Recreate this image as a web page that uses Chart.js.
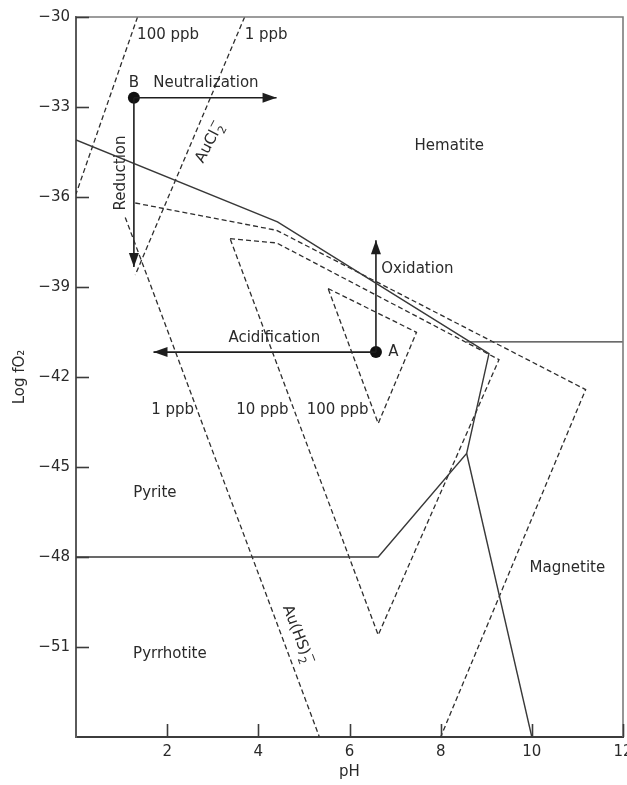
<!DOCTYPE html>
<html>
<head>
<meta charset="utf-8">
<script src="https://cdn.jsdelivr.net/npm/chart.js@4.4.1/dist/chart.umd.min.js"></script>
<style>
html,body{margin:0;padding:0;background:#ffffff;}
#wrap{width:627px;height:785px;position:relative;}
</style>
</head>
<body>
<div id="wrap"><canvas id="c" width="627" height="785"></canvas></div>
<script>
// ---------- axis ticks ----------
const phTickValues = [2, 4, 6, 8, 10, 12];
const logTickValues = [-30, -33, -36, -39, -42, -45, -48, -51];

// ---------- mineral stability boundaries (solid) ----------
const hematitePyrite_pH     = [0, 4.42, 9.06, 8.57, 6.63, 0];
const hematitePyrite_logfO2 = [-34.1, -36.83, -41.22, -44.55, -48.0, -48.0];
const magnetitePyrrhotite_pH     = [8.57, 10.0];
const magnetitePyrrhotite_logfO2 = [-44.55, -54.0];
const hematiteMagnetite_pH     = [8.56, 12.0];
const hematiteMagnetite_logfO2 = [-40.83, -40.83];

// ---------- gold solubility contours (dashed) ----------
const auCl100ppb_pH     = [1.35, 0.0];
const auCl100ppb_logfO2 = [-30.0, -35.9];
const auCl1ppb_pH     = [3.70, 1.30];
const auCl1ppb_logfO2 = [-30.0, -38.6];
const auHS1ppbLeft_pH     = [1.08, 5.34];
const auHS1ppbLeft_logfO2 = [-36.68, -54.0];
const auHS1ppbOuter_pH     = [1.30, 4.40, 11.18, 8.0];
const auHS1ppbOuter_logfO2 = [-36.2, -37.11, -42.42, -54.0];
const auHS10ppb_pH     = [3.38, 4.40, 9.28, 6.63, 3.38];
const auHS10ppb_logfO2 = [-37.39, -37.53, -41.42, -50.6, -37.39];
const auHS100ppb_pH     = [5.53, 7.47, 6.63, 5.53];
const auHS100ppb_logfO2 = [-39.05, -40.51, -43.55, -39.05];

// ---------- fluid points and process arrows ----------
const pointNames  = ['A', 'B'];
const point_pH     = [6.58, 1.27];
const point_logfO2 = [-41.17, -32.69];
const arrowNames       = ['Neutralization', 'Reduction', 'Oxidation', 'Acidification'];
const arrowStart_pH     = [1.27, 1.27, 6.58, 6.58];
const arrowStart_logfO2 = [-32.69, -32.69, -41.17, -41.17];
const arrowEnd_pH       = [4.40, 1.27, 6.58, 1.70];
const arrowEnd_logfO2   = [-32.69, -38.33, -37.44, -41.17];

// ---------- text labels (anchored in data coordinates) ----------
const labelTexts  = ['100 ppb', '1 ppb', 'B', 'Neutralization', 'Hematite', 'Oxidation', 'Acidification', 'A', '1 ppb', '10 ppb', '100 ppb', 'Pyrite', 'Magnetite', 'Pyrrhotite'];
const label_pH     = [2.02, 4.17, 1.27, 2.85, 8.19, 7.49, 4.35, 6.96, 2.12, 4.09, 5.74, 1.73, 10.78, 2.06];
const label_logfO2 = [-30.59, -30.59, -32.19, -32.22, -34.29, -38.39, -40.70, -41.18, -43.12, -43.12, -43.12, -45.86, -48.36, -51.24];

const FONT = 'DejaVu Sans';
const INK = '#2a2a2a';

function pts(xs, ys) { return xs.map((v, i) => ({ x: v, y: ys[i] })); }
function solidLine(label, xs, ys) {
  return { label, data: pts(xs, ys), showLine: true, borderColor: '#383838', borderWidth: 1.4,
           pointRadius: 0, pointHoverRadius: 0, fill: false, tension: 0 };
}
function dashedLine(label, xs, ys) {
  return { label, data: pts(xs, ys), showLine: true, borderColor: '#2e2e2e', borderWidth: 1.3,
           borderDash: [5, 3], pointRadius: 0, pointHoverRadius: 0, fill: false, tension: 0 };
}

const datasets = [
  solidLine('Hematite / Pyrite / Pyrrhotite', hematitePyrite_pH, hematitePyrite_logfO2),
  solidLine('Magnetite / Pyrrhotite', magnetitePyrrhotite_pH, magnetitePyrrhotite_logfO2),
  solidLine('Hematite / Magnetite', hematiteMagnetite_pH, hematiteMagnetite_logfO2),
  dashedLine('AuCl2- 100 ppb', auCl100ppb_pH, auCl100ppb_logfO2),
  dashedLine('AuCl2- 1 ppb', auCl1ppb_pH, auCl1ppb_logfO2),
  dashedLine('Au(HS)2- 1 ppb', auHS1ppbLeft_pH, auHS1ppbLeft_logfO2),
  dashedLine('Au(HS)2- 1 ppb outer', auHS1ppbOuter_pH, auHS1ppbOuter_logfO2),
  dashedLine('Au(HS)2- 10 ppb', auHS10ppb_pH, auHS10ppb_logfO2),
  dashedLine('Au(HS)2- 100 ppb', auHS100ppb_pH, auHS100ppb_logfO2)
];
arrowNames.forEach((n, i) => {
  datasets.push({ label: n, data: pts([arrowStart_pH[i], arrowEnd_pH[i]], [arrowStart_logfO2[i], arrowEnd_logfO2[i]]),
    showLine: true, borderColor: '#1e1e1e', borderWidth: 1.6, pointRadius: 0, pointHoverRadius: 0, fill: false });
});
datasets.push({ label: 'Fluids', data: pts(point_pH, point_logfO2), showLine: false,
  pointRadius: 6, pointHoverRadius: 6, backgroundColor: '#111', borderColor: '#111', borderWidth: 0 });

function drawChem(ctx, base, sub, sup, cx, cy, deg, size) {
  ctx.save();
  ctx.translate(cx, cy);
  ctx.rotate(deg * Math.PI / 180);
  ctx.fillStyle = INK;
  ctx.textAlign = 'left';
  ctx.textBaseline = 'middle';
  ctx.font = size + 'px "' + FONT + '"';
  const wb = ctx.measureText(base).width;
  const small = Math.round(size * 0.72);
  ctx.font = small + 'px "' + FONT + '"';
  const ws = Math.max(ctx.measureText(sub).width, ctx.measureText(sup).width);
  const x0 = -(wb + ws + 1) / 2;
  ctx.font = size + 'px "' + FONT + '"';
  ctx.fillText(base, x0, 0);
  ctx.font = small + 'px "' + FONT + '"';
  ctx.fillText(sub, x0 + wb + 1, size * 0.38);
  ctx.fillText(sup, x0 + wb + 1, -size * 0.42);
  ctx.restore();
}

const overlay = {
  id: 'overlay',
  afterDatasetsDraw(chart) {
    const { ctx, chartArea: a, scales } = chart;
    const X = scales.x, Y = scales.y;
    ctx.save();
    // frame (top and right)
    ctx.strokeStyle = '#7c7c7c';
    ctx.lineWidth = 1.6;
    ctx.beginPath();
    ctx.moveTo(a.left, a.top);
    ctx.lineTo(a.right, a.top);
    ctx.lineTo(a.right, a.bottom);
    ctx.stroke();
    // inward tick marks
    ctx.strokeStyle = '#3c3c3c';
    ctx.lineWidth = 1.6;
    logTickValues.forEach(v => {
      const py = Math.round(Y.getPixelForValue(v)) + 0.5;
      ctx.beginPath(); ctx.moveTo(a.left, py); ctx.lineTo(a.left + 13, py); ctx.stroke();
    });
    phTickValues.forEach(v => {
      const px = Math.round(X.getPixelForValue(v)) + 0.5;
      ctx.beginPath(); ctx.moveTo(px, a.bottom); ctx.lineTo(px, a.bottom - 13); ctx.stroke();
    });
    // arrowheads
    ctx.fillStyle = '#1e1e1e';
    arrowNames.forEach((n, i) => {
      const x0 = X.getPixelForValue(arrowStart_pH[i]), y0 = Y.getPixelForValue(arrowStart_logfO2[i]);
      const x1 = X.getPixelForValue(arrowEnd_pH[i]), y1 = Y.getPixelForValue(arrowEnd_logfO2[i]);
      const ang = Math.atan2(y1 - y0, x1 - x0);
      const L = 14, H = 5;
      ctx.save();
      ctx.translate(x1, y1);
      ctx.rotate(ang);
      ctx.beginPath();
      ctx.moveTo(0, 0);
      ctx.lineTo(-L, -H);
      ctx.lineTo(-L, H);
      ctx.closePath();
      ctx.fill();
      ctx.restore();
    });
    // plain labels
    ctx.fillStyle = INK;
    ctx.font = '15px "' + FONT + '"';
    ctx.textAlign = 'center';
    ctx.textBaseline = 'middle';
    labelTexts.forEach((t, i) => {
      ctx.fillText(t, X.getPixelForValue(label_pH[i]), Y.getPixelForValue(label_logfO2[i]));
    });
    // rotated labels
    ctx.save();
    ctx.translate(X.getPixelForValue(0.99), Y.getPixelForValue(-35.2));
    ctx.rotate(-Math.PI / 2);
    ctx.fillText('Reduction', 0, 0);
    ctx.restore();
    drawChem(ctx, 'AuCl', '2', '\u2212', X.getPixelForValue(2.94), Y.getPixelForValue(-34.17), -62, 15);
    drawChem(ctx, 'Au(HS)', '2', '\u2212', X.getPixelForValue(4.86), Y.getPixelForValue(-50.6), 69, 15);
    ctx.restore();
  }
};

new Chart(document.getElementById('c'), {
  type: 'scatter',
  data: { datasets },
  options: {
    responsive: false,
    animation: false,
    devicePixelRatio: 1,
    layout: { autoPadding: false, padding: { top: 17, right: 4, left: 0, bottom: 0 } },
    plugins: { legend: { display: false }, tooltip: { enabled: false } },
    scales: {
      x: {
        type: 'linear', min: 0, max: 12,
        afterBuildTicks: s => { s.ticks = phTickValues.map(v => ({ value: v })); },
        afterFit: s => { s.height = 48; s.paddingLeft = 0; s.paddingRight = 0; },
        grid: { display: false, drawTicks: false, tickLength: 0 },
        border: { display: true, color: '#3c3c3c', width: 2 },
        ticks: { color: INK, font: { family: FONT, size: 15 }, padding: 6, maxRotation: 0, autoSkip: false,
                 callback: v => String(v) },
        title: { display: true, text: 'pH', color: INK, font: { family: FONT, size: 15 }, padding: { top: 0, bottom: 4 } }
      },
      y: {
        type: 'linear', min: -54, max: -30,
        afterBuildTicks: s => { s.ticks = logTickValues.map(v => ({ value: v })); },
        afterFit: s => { s.width = 76; s.paddingTop = 0; s.paddingBottom = 0; },
        grid: { display: false, drawTicks: false, tickLength: 0 },
        border: { display: true, color: '#5a5a5a', width: 2 },
        ticks: { color: INK, font: { family: FONT, size: 15 }, padding: 6, autoSkip: false,
                 callback: v => '\u2212' + Math.abs(v) },
        title: { display: true, text: 'Log fO\u2082', color: INK, font: { family: FONT, size: 15 }, padding: { top: 11, bottom: 0 } }
      }
    }
  },
  plugins: [overlay]
});
</script>
</body>
</html>
